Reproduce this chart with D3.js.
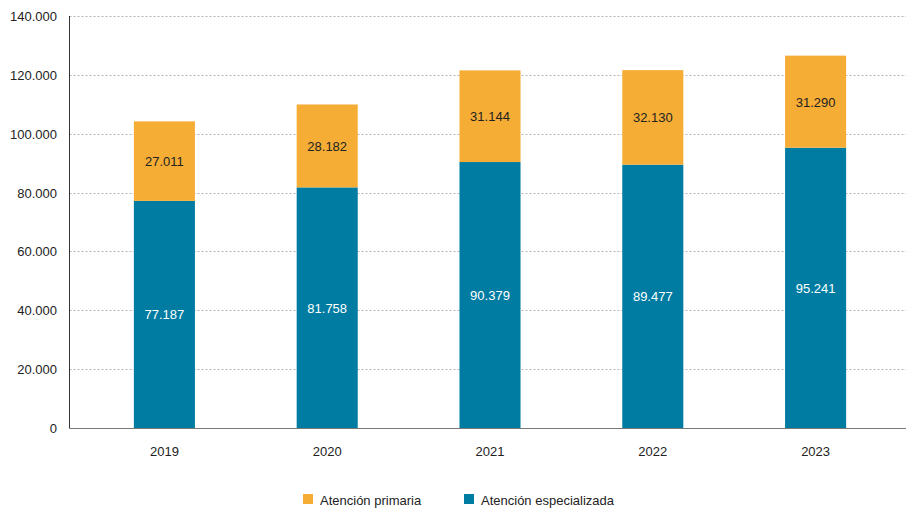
<!DOCTYPE html>
<html><head><meta charset="utf-8">
<script src="https://cdn.jsdelivr.net/npm/d3@7"></script>
<style>
body{margin:0;background:#fff;}
text{font-family:"Liberation Sans",Arial,Helvetica,sans-serif;}
</style></head>
<body><svg id="c" width="906" height="508"></svg>
<script>
const years = ["2019","2020","2021","2022","2023"];
const especializada = [77187, 81758, 90379, 89477, 95241];
const primaria = [27011, 28182, 31144, 32130, 31290];
const yTicks = [0,20000,40000,60000,80000,100000,120000,140000];
const seriesNames = ["Atención primaria","Atención especializada"];
const colors = {"Atención primaria":"#F5AD35","Atención especializada":"#007CA2"};

const svg = d3.select("#c");
const fmt = v => d3.format(",")(v).replace(/,/g,".");
const x = d3.scaleBand().domain(years).range([83,897]).paddingInner(0.625).paddingOuter(0.3125);
const y = d3.scaleLinear().domain([0,140000]).range([428,16]);
const x0 = 69.5, x1 = 906;

// grid
svg.append("g").selectAll("line").data(yTicks.filter(d=>d>0)).join("line")
  .attr("x1",x0).attr("x2",x1).attr("y1",d=>Math.round(y(d))+0.5).attr("y2",d=>Math.round(y(d))+0.5)
  .attr("stroke","#b5b5b5").attr("stroke-dasharray","2,2");

// y labels
svg.append("g").selectAll("text").data(yTicks).join("text")
  .attr("x",57).attr("y",d=>y(d)+5).attr("text-anchor","end")
  .attr("font-size",13).attr("fill","#222").text(d=>d===0?"0":fmt(d));

const data = years.map((yr,i)=>({yr, esp:especializada[i], pri:primaria[i]}));
const g = svg.append("g");
g.selectAll("rect.esp").data(data).join("rect").attr("class","esp")
  .attr("x",d=>x(d.yr)).attr("width",x.bandwidth())
  .attr("y",d=>y(d.esp)).attr("height",d=>y(0)-y(d.esp)).attr("fill",colors["Atención especializada"]);
g.selectAll("rect.pri").data(data).join("rect").attr("class","pri")
  .attr("x",d=>x(d.yr)).attr("width",x.bandwidth())
  .attr("y",d=>y(d.esp+d.pri)).attr("height",d=>y(d.esp)-y(d.esp+d.pri)).attr("fill",colors["Atención primaria"]);

g.selectAll("text.esp").data(data).join("text").attr("class","esp")
  .attr("x",d=>x(d.yr)+x.bandwidth()/2).attr("y",d=>(y(0)+y(d.esp))/2+5)
  .attr("text-anchor","middle").attr("font-size",13).attr("fill","#fff").text(d=>fmt(d.esp));
g.selectAll("text.pri").data(data).join("text").attr("class","pri")
  .attr("x",d=>x(d.yr)+x.bandwidth()/2).attr("y",d=>(y(d.esp)+y(d.esp+d.pri))/2+5)
  .attr("text-anchor","middle").attr("font-size",13).attr("fill","#222").text(d=>fmt(d.pri));

// axes lines
svg.append("line").attr("x1",x0).attr("x2",x0).attr("y1",16).attr("y2",428.5).attr("stroke","#333").attr("stroke-width",1);
svg.append("line").attr("x1",x0).attr("x2",x1).attr("y1",428.5).attr("y2",428.5).attr("stroke","#777").attr("stroke-width",1.2);

// x labels
svg.append("g").selectAll("text").data(years).join("text")
  .attr("x",d=>x(d)+x.bandwidth()/2).attr("y",456).attr("text-anchor","middle")
  .attr("font-size",13).attr("fill","#222").text(d=>d);

// legend
const lx = [303,464];
const lg = svg.append("g").selectAll("g").data(seriesNames).join("g")
  .attr("transform",(d,i)=>`translate(${lx[i]},494)`);
lg.append("rect").attr("width",10).attr("height",10).attr("fill",d=>colors[d]);
lg.append("text").attr("x",17).attr("y",10.5).attr("font-size",13).attr("fill","#222").text(d=>d);
</script></body></html>
